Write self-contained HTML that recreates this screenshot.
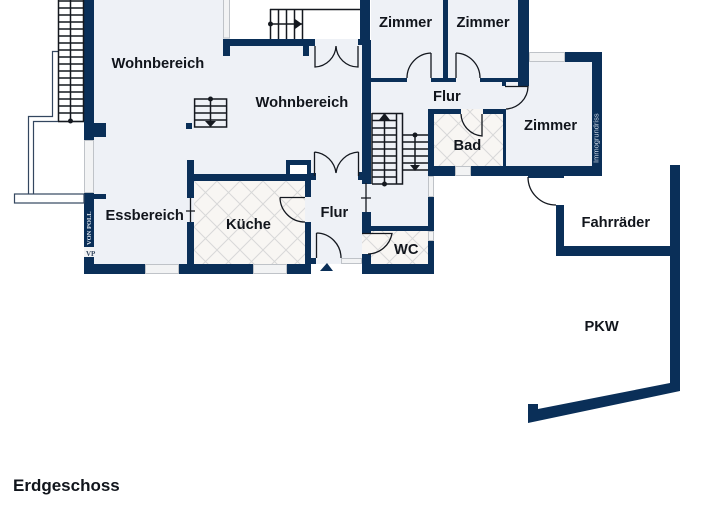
<!DOCTYPE html>
<html><head><meta charset="utf-8">
<style>
html,body{margin:0;padding:0;background:#fff;width:720px;height:530px;overflow:hidden}
svg{display:block}
text{font-family:"Liberation Sans",sans-serif;font-weight:700;fill:#11151c}
</style></head><body>
<svg width="720" height="530" viewBox="0 0 720 530" xmlns="http://www.w3.org/2000/svg">
<defs>
<pattern id="h" width="23" height="23" patternUnits="userSpaceOnUse" patternTransform="translate(194 181)">
<rect width="23" height="23" fill="#f8f6f3"/>
<path d="M0 0L23 23M23 0L0 23" stroke="#d8d8d8" stroke-width="1"/>
</pattern>
</defs>
<g fill="#eef1f6">
<rect x="94" y="0" width="268" height="264"/>
<rect x="371" y="0" width="148" height="110"/>
<rect x="362" y="78" width="66" height="150"/>
<rect x="506" y="62" width="86" height="104"/>
</g>
<rect x="230" y="0" width="131" height="39" fill="#fff"/>
<rect x="194" y="181" width="111" height="83" fill="url(#h)"/>
<rect x="362" y="231" width="66" height="33" fill="url(#h)"/>
<rect x="434" y="114" width="69" height="52" fill="url(#h)"/>
<rect x="461" y="109" width="22" height="6" fill="url(#h)"/>
<rect x="290" y="165" width="17" height="9" fill="#fff"/>
<g fill="#0a2f58">
<rect x="84" y="0" width="10" height="140"/>
<rect x="94" y="123" width="12" height="14"/>
<rect x="84" y="192" width="10" height="55"/>
<rect x="94" y="194" width="12" height="5"/>
<rect x="84" y="257" width="10" height="17"/>
<rect x="84" y="264" width="61" height="10"/>
<rect x="178" y="264" width="75" height="10"/>
<rect x="287" y="264" width="24" height="10"/>
<rect x="187" y="160" width="7" height="38"/>
<rect x="187" y="222" width="7" height="42"/>
<rect x="194" y="174" width="117" height="7"/>
<rect x="286" y="160" width="25" height="5"/>
<rect x="286" y="160" width="4" height="14"/>
<rect x="307" y="160" width="4" height="21"/>
<rect x="305" y="181" width="6" height="16"/>
<rect x="305" y="222" width="6" height="42"/>
<rect x="311" y="173" width="5" height="7"/>
<rect x="311" y="258" width="5" height="6"/>
<rect x="223" y="39" width="7" height="17"/>
<rect x="223" y="39" width="92" height="7"/>
<rect x="303" y="46" width="6" height="10"/>
<rect x="358" y="39" width="4" height="6"/>
<rect x="360" y="0" width="10" height="40"/>
<rect x="362" y="40" width="9" height="144"/>
<rect x="358" y="172" width="6" height="8"/>
<rect x="362" y="212" width="9" height="21"/>
<rect x="362" y="226" width="72" height="5"/>
<rect x="428" y="196" width="6" height="35"/>
<rect x="428" y="240" width="6" height="34"/>
<rect x="362" y="264" width="72" height="10"/>
<rect x="362" y="254" width="9" height="10"/>
<rect x="371" y="78" width="36" height="4"/>
<rect x="443" y="0" width="5" height="82"/>
<rect x="431" y="78" width="25" height="4"/>
<rect x="480" y="78" width="48" height="4"/>
<rect x="518" y="0" width="11" height="86"/>
<rect x="502" y="82" width="4" height="4"/>
<rect x="564" y="52" width="38" height="10"/>
<rect x="592" y="52" width="10" height="124"/>
<rect x="428" y="166" width="27" height="10"/>
<rect x="470" y="166" width="132" height="10"/>
<rect x="428" y="109" width="6" height="67"/>
<rect x="428" y="109" width="33" height="5"/>
<rect x="483" y="109" width="23" height="5"/>
<rect x="503" y="109" width="3" height="57"/>
<rect x="670" y="165" width="10" height="226"/>
<rect x="556" y="205" width="8" height="51"/>
<rect x="556" y="246" width="114" height="10"/>
<rect x="528" y="176" width="36" height="2"/>
<polygon points="670,383 538,409 538,404 528,404 528,423 680,391 680,383"/>
<polygon points="320,271 333,271 327,263"/>
</g>
<g fill="#f2f3f4" stroke="#bfc3c8" stroke-width="1">
<rect x="84.500" y="140.500" width="9" height="52"/>
<rect x="145.500" y="264.500" width="33" height="9"/>
<rect x="253.500" y="264.500" width="33" height="9"/>
<rect x="341.500" y="258.500" width="20" height="5"/>
<rect x="428.500" y="176.500" width="5" height="20"/>
<rect x="428.500" y="231.500" width="5" height="9"/>
<rect x="455.500" y="166.500" width="15" height="9"/>
<rect x="529.500" y="52.500" width="35" height="9"/>
<rect x="223.500" y="-1" width="6" height="39"/>
</g>
<rect x="84" y="247" width="10" height="10" fill="#f2f3f4"/>
<g fill="none" stroke="#14181f" stroke-width="1.300">
<path d="M366 183V212M361 198H371"/>
<path d="M190.500 198V222M186 211H195"/>
<path d="M314.500 152V176M314.500 152A24 24 0 0 1 336 173M358.500 152V176M358.500 152A24 24 0 0 0 336 173"/>
<path d="M315 46V67A22 22 0 0 0 336 46M358 46V67A22 22 0 0 1 336 46"/>
<path d="M316.500 233V258M316.500 233A25 25 0 0 1 341 258"/>
<path d="M362 233.500H392A25 25 0 0 1 368 254"/>
<path d="M280 197.500A25 25 0 0 0 305 222M280 197.500H305"/>
<path d="M431 53V78M431 53A25 25 0 0 0 407 78M456 53V78M456 53A25 25 0 0 1 480 78"/>
<path d="M505 86.500H528A23 23 0 0 1 506 109"/>
<path d="M482 114V136A23 23 0 0 1 461 114"/>
<path d="M528 177A28 28 0 0 0 556 205"/>
</g>
<g fill="none" stroke="#33465f" stroke-width="1.200">
<path d="M58 51.500H52.500V116.500H28.500V194"/>
<path d="M84 121.500H33.500V194"/>
<rect x="14.500" y="194" width="69.500" height="9" fill="#fff"/>
</g>
<g fill="none" stroke="#14181f" stroke-width="1.500">
<path d="M58.500 0V121M83.500 0V121M70.500 0V121M58 121.500H84"/>
<path d="M58 1H84M58 8H84M58 15H84M58 22H84M58 29H84M58 36H84M58 43H84M58 50H84M58 57H84M58 64H84M58 71H84M58 78H84M58 85H84M58 92H84M58 99H84M58 106H84M58 113H84"/>
<rect x="194.600" y="99" width="32" height="28"/>
<path d="M195 106H226M195 113H226M195 120H226M210.500 99V127"/>
<path d="M270.500 9V39M278.500 9V39M286.500 9V39M294.500 9V39M302.500 9V39M270 9.500H360M270 24H302"/>
<path d="M372 113.500H402.500V184H372M372 113V184M384.500 113V184M396.500 113V184"/>
<path d="M372 120.500H397M372 128H397M372 135H397M372 142H397M372 149H397M372 156H397M372 163H397M372 170H397M372 177H397"/>
<path d="M403 135H428M403 142H428M403 149H428M403 156H428M403 163H428M403 170H428M415 135V166"/>
</g>
<g fill="#14181f">
<circle cx="70.500" cy="121" r="2.500"/>
<circle cx="210.500" cy="99" r="2.500"/>
<polygon points="205,121 216,121 210.500,127"/>
<circle cx="270.500" cy="24" r="2.500"/>
<polygon points="295,19 295,29 302,24"/>
<polygon points="379,120 390,120 384.500,113"/>
<circle cx="384.500" cy="184" r="2.500"/>
<circle cx="415" cy="135" r="2.500"/>
<polygon points="410,165 420,165 415,171"/>
</g>
<rect x="186" y="123" width="6" height="6" fill="#0a2f58"/>
<g font-size="14.700">
<text x="111.500" y="68">Wohnbereich</text>
<text x="255.500" y="107">Wohnbereich</text>
<text x="379" y="27">Zimmer</text>
<text x="456.500" y="27">Zimmer</text>
<text x="433" y="101">Flur</text>
<text x="524" y="130">Zimmer</text>
<text x="453.500" y="150">Bad</text>
<text x="105.500" y="220">Essbereich</text>
<text x="226" y="229">Küche</text>
<text x="320.500" y="217">Flur</text>
<text x="394" y="254">WC</text>
<text x="581.500" y="227">Fahrräder</text>
<text x="584.500" y="331">PKW</text>
</g>
<text x="13" y="491" font-size="17">Erdgeschoss</text>
<text transform="translate(598.500 163) rotate(-90)" font-size="7.500" style="font-weight:400;fill:#c9d4e2">Immogrundriss</text>
<text transform="translate(91 245) rotate(-90)" font-size="6.500" style="font-family:'Liberation Serif',serif;fill:#dfe6ee">VON POLL</text>
<text x="86" y="256" font-size="7" style="font-family:'Liberation Serif',serif;fill:#33465f">VP</text>
</svg>
</body></html>
